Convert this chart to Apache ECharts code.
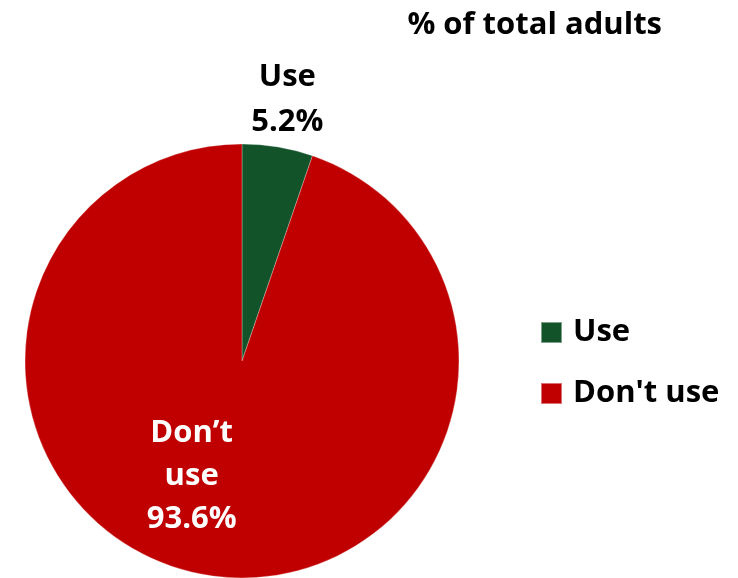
<!DOCTYPE html>
<html>
<head>
<meta charset="utf-8">
<script src="https://cdn.jsdelivr.net/npm/echarts@6/dist/echarts.min.js"></script>
<style>
  html, body { margin: 0; padding: 0; background: #fff; }
  #chart { width: 738px; height: 578px; }
</style>
</head>
<body>
<div id="chart"></div>
<script>
// Share of adults by usage
const categories = ['Use', "Don't use"];
const sliceLabels = ['Use', 'Don\u2019t\nuse'];
const values = [5.2, 93.6];
const colors = ['#12532A', '#C00000'];
const titleText = '% of total adults';

const FONT = '"Open Sans"';
const FONT_SIZE = 31;

const chart = echarts.init(document.getElementById('chart'), null, { renderer: 'canvas' });

const labelStyles = [
  { position: 'inside', color: '#000', offset: [27, -151] },
  { position: 'inside', color: '#fff', offset: [-32, 5] }
];

chart.setOption({
  animation: false,
  backgroundColor: '#fff',
  title: {
    text: titleText,
    right: 71,
    top: 5,
    textStyle: { fontFamily: FONT, fontWeight: 'bold', fontSize: FONT_SIZE, color: '#000' }
  },
  legend: {
    orient: 'vertical',
    left: 535,
    top: 312,
    itemWidth: 21,
    itemHeight: 21,
    itemGap: 30,
    icon: 'rect',
    data: categories,
    textStyle: {
      fontFamily: FONT, fontWeight: 'bold', fontSize: FONT_SIZE, lineHeight: 31,
      color: '#000', padding: [0, 0, 0, 6]
    }
  },
  series: [{
    type: 'pie',
    center: [242, 361],
    radius: 217,
    startAngle: 90,
    clockwise: true,
    labelLine: { show: false },
    itemStyle: { borderColor: 'rgba(255,255,255,0.45)', borderWidth: 0.6 },
    emphasis: { disabled: true },
    data: categories.map((name, i) => ({
      name,
      value: values[i],
      itemStyle: { color: colors[i] },
      label: {
        show: true,
        position: labelStyles[i].position,
        offset: labelStyles[i].offset,
        formatter: sliceLabels[i] + '\n' + values[i].toFixed(1) + '%',
        fontFamily: FONT,
        fontWeight: 'bold',
        fontSize: FONT_SIZE,
        lineHeight: i === 0 ? 45 : 43,
        align: 'center',
        color: labelStyles[i].color
      }
    }))
  }]
});
</script>
</body>
</html>
